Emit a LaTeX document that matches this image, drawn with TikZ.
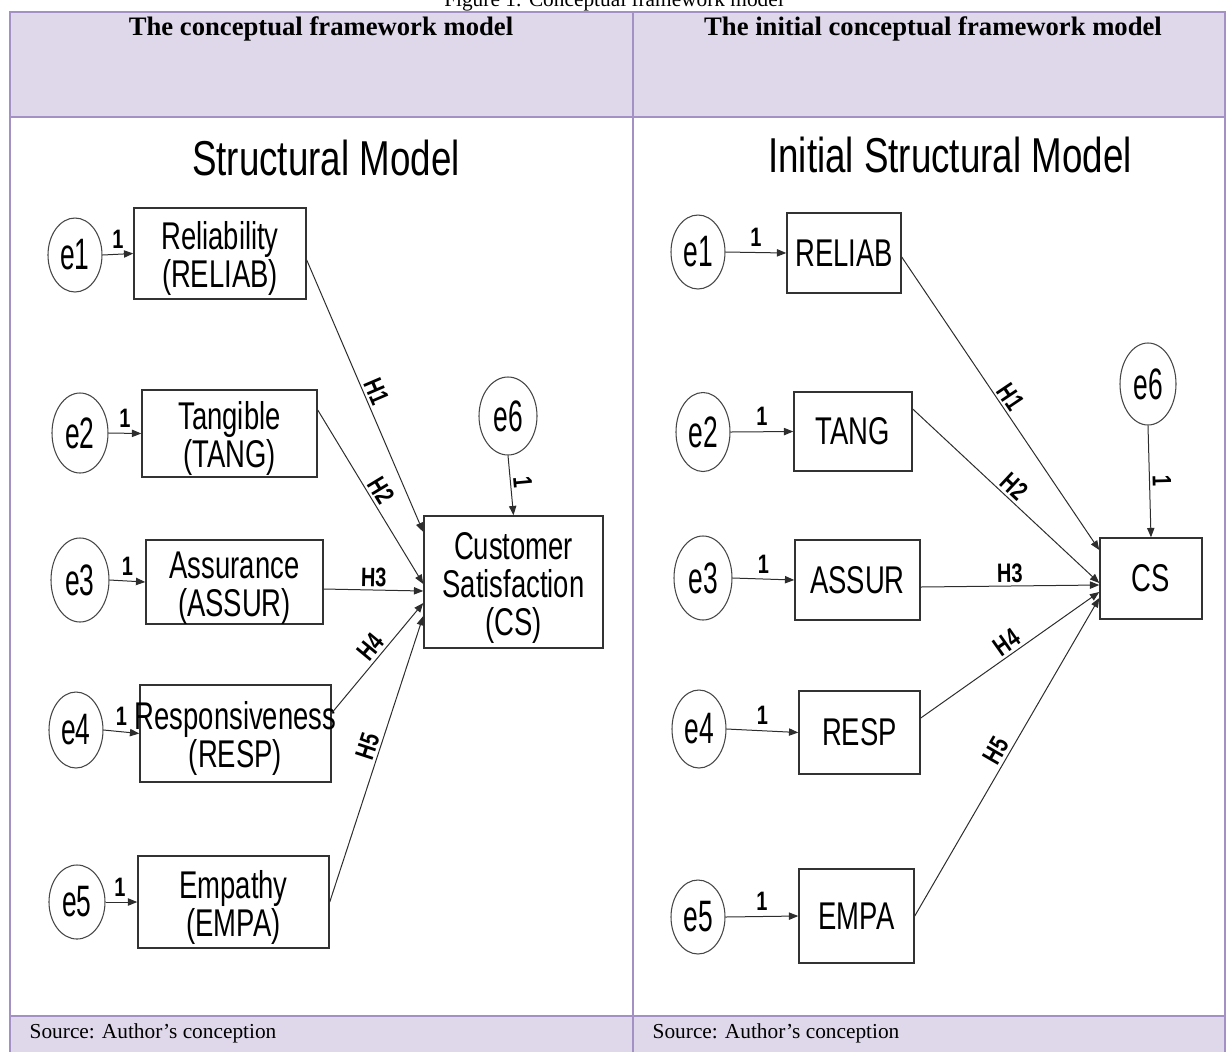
\documentclass[tikz,border=0pt]{standalone}
\usepackage{fontspec}
\setmainfont{Liberation Serif}
\newfontfamily\amosfont[FakeStretch=0.71]{Liberation Sans}
\newfontfamily\amostitle[FakeStretch=0.75]{Liberation Sans}
\newfontfamily\amoserr[FakeStretch=0.6]{Liberation Sans}
\usetikzlibrary{arrows.meta,shapes.geometric}
\newdimen\pxu \pxu=0.75pt
% tall strut that lowers the text block of multi-line boxes
\newcommand\lowstrut{\rule{0pt}{28.7pt}}
\definecolor{headfill}{RGB}{223,216,234}
\definecolor{tableborder}{RGB}{163,145,197}
\definecolor{boxline}{RGB}{50,50,50}
\definecolor{ellline}{RGB}{70,70,70}
\definecolor{lineclr}{RGB}{45,45,45}
\begin{document}
\begin{tikzpicture}[x=0.75pt, y=-0.75pt,
  cellline/.style={draw=tableborder, line width=2pt},
  var/.style={draw=boxline, line width=1.1pt, rectangle, inner sep=0pt, align=center,
    font=\amosfont\fontsize{29}{28.5}\selectfont},
  err/.style={draw=ellline, line width=0.8pt, ellipse, inner sep=0pt,
    font=\amoserr\fontsize{33}{33}\selectfont},
  conn/.style={draw=lineclr, line width=0.75pt, -{Triangle[length=7pt,width=5.5pt]}},
  lbl/.style={font=\amostitle\bfseries\fontsize{20}{20}\selectfont, inner sep=1pt, text=black},
  onelbl/.style={lbl, above=3pt, pos=0.5},
  hlbl/.style={lbl, sloped, above=1pt, pos=0.5},
  modeltitle/.style={font=\amostitle\fontsize{36.75}{40}\selectfont, anchor=base},
  headtext/.style={font=\bfseries\fontsize{20}{24}\selectfont, anchor=base},
  srctext/.style={font=\fontsize{16}{19}\selectfont, anchor=base west}
]
\useasboundingbox (0,0) rectangle (1228,1051);

% ---- table frame ----
\fill[headfill] (10,12) rectangle (1225,117);
\fill[headfill] (10,1016) rectangle (1225,1056);
\draw[cellline] (10,1056) -- (10,12) -- (1225,12) -- (1225,1056);
\draw[cellline] (10,117) -- (1225,117);
\draw[cellline] (10,1016) -- (1225,1016);
\draw[cellline] (633,12) -- (633,1056);

\node[font=\fontsize{16}{19}\selectfont, anchor=base] (caption) at (614,6) {Figure 1: Conceptual framework model};
\node[headtext] (headL) at (321,35) {The conceptual framework model};
\node[headtext] (headR) at (933,35) {The initial conceptual framework model};
\node[srctext] (srcL) at (25,1038) {Source: Author’s conception};
\node[srctext] (srcR) at (648,1038) {Source: Author’s conception};

% ---- left panel: structural model ----
\node[modeltitle] (titleL) at (326,175) {Structural Model};

\node[err, minimum width=54\pxu, minimum height=74\pxu] (le1) at (75,255) {e1};
\node[err, minimum width=56\pxu, minimum height=80\pxu] (le2) at (80,433) {e2};
\node[err, minimum width=58\pxu, minimum height=84\pxu] (le3) at (80,580) {e3};
\node[err, minimum width=54\pxu, minimum height=76\pxu] (le4) at (76,730) {e4};
\node[err, minimum width=56\pxu, minimum height=74\pxu] (le5) at (77,902) {e5};
\node[err, minimum width=58\pxu, minimum height=78\pxu] (le6) at (508,416) {e6};

\node[var, minimum width=172\pxu, minimum height=91\pxu] (lrel) at (220,253.5) {\lowstrut Reliability\\(RELIAB)};
\node[var, minimum width=175\pxu, minimum height=87\pxu] (ltang) at (229.5,433.5) {\lowstrut Tangible\\(TANG)};
\node[var, minimum width=177\pxu, minimum height=84\pxu] (lassur) at (234.5,582) {\lowstrut Assurance\\(ASSUR)};
\node[var, minimum width=191\pxu, minimum height=97\pxu] (lresp) at (235.5,733.5) {\lowstrut\makebox[0pt]{Responsiveness}\\(RESP)};
\node[var, minimum width=191\pxu, minimum height=92\pxu] (lempa) at (233.5,902) {\lowstrut Empathy\\(EMPA)};
\node[var, minimum width=179\pxu, minimum height=132\pxu] (lcs) at (513.5,582) {\lowstrut Customer\\Satisfaction\\(CS)};

\draw[conn] (le1.east) -- node[onelbl] {1} (lrel.west);
\draw[conn] (le2.east) -- node[onelbl] {1} (ltang.west);
\draw[conn] (le3.east) -- node[onelbl] {1} (lassur.west);
\draw[conn] (le4.east) -- node[onelbl] {1} (lresp.west);
\draw[conn] (le5.east) -- node[onelbl, pos=0.45] {1} (lempa.west);
\draw[conn] (le6.south) -- node[hlbl, pos=0.47] {1} (lcs.north);

\draw[conn] ([yshift=-6.5\pxu]lrel.east) -- node[hlbl] {H1} ([yshift=50\pxu]lcs.west);
\draw[conn] ([yshift=23.5\pxu]ltang.east) -- node[hlbl] {H2} ([yshift=-2\pxu]lcs.west);
\draw[conn] ([yshift=-7\pxu]lassur.east) -- node[hlbl] {H3} ([yshift=-9\pxu]lcs.west);
\draw[conn] ([yshift=20.5\pxu]lresp.east) -- node[hlbl, pos=0.53] {H4} ([yshift=-21\pxu]lcs.west);
\draw[conn] (lempa.east) -- node[hlbl, pos=0.53] {H5} ([yshift=-34\pxu]lcs.west);

% ---- right panel: initial structural model ----
\node[modeltitle] (titleR) at (950,172) {Initial Structural Model};

\node[err, minimum width=54\pxu, minimum height=74\pxu] (re1) at (698,252) {e1};
\node[err, minimum width=54\pxu, minimum height=79\pxu] (re2) at (703,432) {e2};
\node[err, minimum width=58\pxu, minimum height=84\pxu] (re3) at (703,578) {e3};
\node[err, minimum width=54\pxu, minimum height=78\pxu] (re4) at (699,729) {e4};
\node[err, minimum width=54\pxu, minimum height=74\pxu] (re5) at (698,917) {e5};
\node[err, minimum width=56\pxu, minimum height=82\pxu] (re6) at (1148,384) {e6};

\node[var, minimum width=114\pxu, minimum height=80\pxu] (rrel) at (844,253) {RELIAB};
\node[var, minimum width=118\pxu, minimum height=79\pxu] (rtang) at (853,431.5) {TANG};
\node[var, minimum width=125\pxu, minimum height=80\pxu] (rassur) at (857.5,580) {ASSUR};
\node[var, minimum width=121\pxu, minimum height=83\pxu] (rresp) at (859.5,732.5) {RESP};
\node[var, minimum width=115\pxu, minimum height=94\pxu] (rempa) at (856.5,916) {EMPA};
\node[var, minimum width=102\pxu, minimum height=81\pxu] (rcs) at (1151,578.5) {CS};

\draw[conn] (re1.east) -- node[onelbl] {1} (rrel.west);
\draw[conn] (re2.east) -- node[onelbl] {1} (rtang.west);
\draw[conn] (re3.east) -- node[onelbl] {1} (rassur.west);
\draw[conn] (re4.east) -- node[onelbl] {1} (rresp.west);
\draw[conn] (re5.east) -- node[onelbl] {1} (rempa.west);
\draw[conn] (re6.south) -- node[hlbl] {1} (rcs.north);

\draw[conn] ([yshift=-4\pxu]rrel.east) -- node[hlbl] {H1} ([yshift=28.5\pxu]rcs.west);
\draw[conn] ([yshift=22.5\pxu]rtang.east) -- node[hlbl] {H2} ([yshift=-4.5\pxu]rcs.west);
\draw[conn] ([yshift=-7\pxu]rassur.east) -- node[hlbl] {H3} ([yshift=-6.5\pxu]rcs.west);
\draw[conn] ([yshift=14.5\pxu]rresp.east) -- node[hlbl, pos=0.52] {H4} ([yshift=-13.5\pxu]rcs.west);
\draw[conn] (rempa.east) -- node[hlbl] {H5} ([yshift=-19.5\pxu]rcs.west);
\end{tikzpicture}
\end{document}
